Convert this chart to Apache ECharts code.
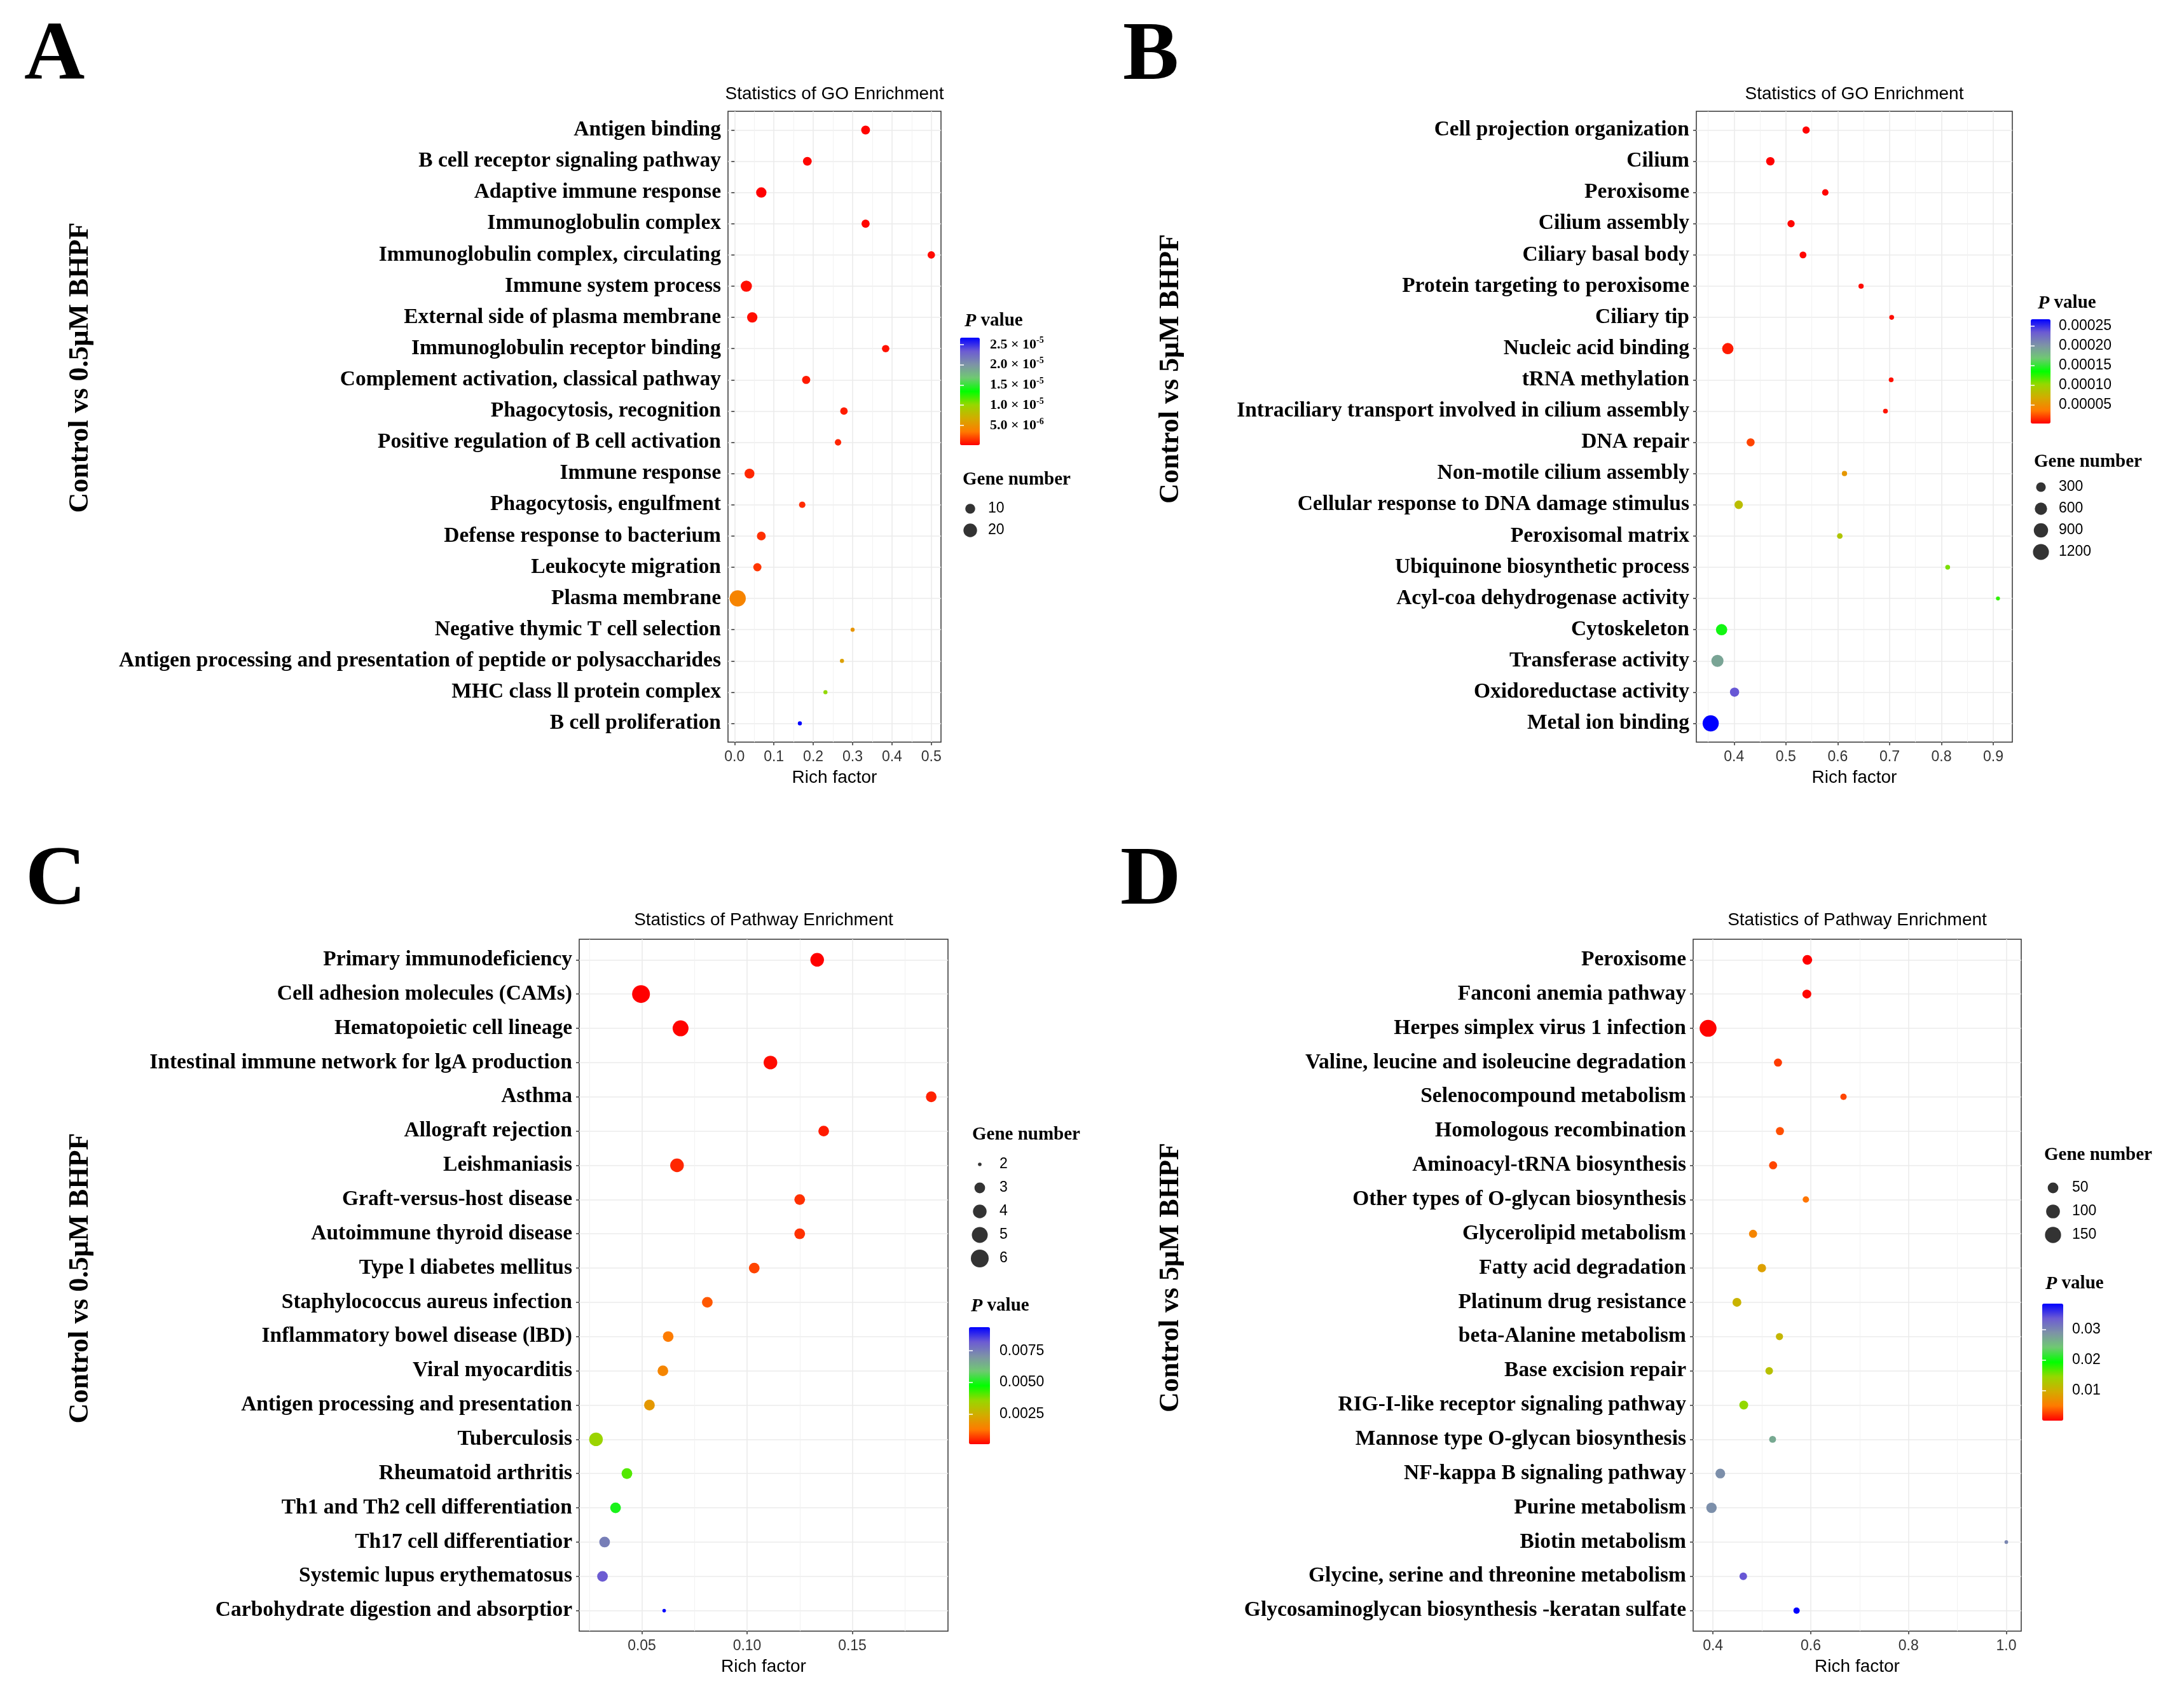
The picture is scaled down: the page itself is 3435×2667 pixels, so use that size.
<!DOCTYPE html>
<html>
<head>
<meta charset="utf-8">
<title>GO and pathway enrichment, Control vs BHPF</title>
<script src="https://cdn.jsdelivr.net/npm/echarts@6/dist/echarts.min.js"></script>
<style>
  html, body { margin: 0; padding: 0; background: #fff; }
  #chart { width: 3435px; height: 2667px; }
</style>
</head>
<body>
<div id="chart"></div>
<script>
var SERIF = '"Liberation Serif", "Times New Roman", serif';
var SANS = '"Liberation Sans", Arial, sans-serif';

// A - GO, Control vs 0.5uM BHPF
var termsA = ['Antigen binding', 'B cell receptor signaling pathway', 'Adaptive immune response',
  'Immunoglobulin complex', 'Immunoglobulin complex, circulating', 'Immune system process',
  'External side of plasma membrane', 'Immunoglobulin receptor binding',
  'Complement activation, classical pathway', 'Phagocytosis, recognition',
  'Positive regulation of B cell activation', 'Immune response', 'Phagocytosis, engulfment',
  'Defense response to bacterium', 'Leukocyte migration', 'Plasma membrane',
  'Negative thymic T cell selection', 'Antigen processing and presentation of peptide or polysaccharides',
  'MHC class ll protein complex', 'B cell proliferation'];
var richA = [0.333, 0.185, 0.068, 0.333, 0.5, 0.030, 0.045, 0.384, 0.182, 0.278,
  0.263, 0.038, 0.172, 0.068, 0.058, 0.008, 0.300, 0.273, 0.231, 0.166];
var genesA = [8, 8, 11, 7, 6, 13, 11, 6, 7, 6, 5, 10, 5, 8, 7, 30, 4, 4, 4, 4];
var pvalA = [2e-7, 3e-7, 1.3e-7, 3e-7, 4e-7, 5e-7, 5e-7, 6e-7, 8e-7, 9e-7,
  1.1e-6, 1.2e-6, 1.3e-6, 1.4e-6, 1.6e-6, 4.1e-6, 5.2e-6, 6.0e-6, 1.02e-5, 2.67e-5];
var richTicksA = [0, 0.1, 0.2, 0.3, 0.4, 0.5];
var geneBreaksA = [10, 20];
var pTicksA = [5e-6, 1e-5, 1.5e-5, 2e-5, 2.5e-5];

// B - GO, Control vs 5uM BHPF
var termsB = ['Cell projection organization', 'Cilium', 'Peroxisome', 'Cilium assembly',
  'Ciliary basal body', 'Protein targeting to peroxisome', 'Ciliary tip', 'Nucleic acid binding',
  'tRNA methylation', 'Intraciliary transport involved in cilium assembly', 'DNA repair',
  'Non-motile cilium assembly', 'Cellular response to DNA damage stimulus', 'Peroxisomal matrix',
  'Ubiquinone biosynthetic process', 'Acyl-coa dehydrogenase activity', 'Cytoskeleton',
  'Transferase activity', 'Oxidoreductase activity', 'Metal ion binding'];
var richB = [0.539, 0.470, 0.576, 0.510, 0.533, 0.645, 0.704, 0.388, 0.703, 0.692,
  0.432, 0.613, 0.409, 0.604, 0.812, 0.909, 0.376, 0.368, 0.401, 0.355];
var genesB = [125, 201, 88, 125, 105, 52, 45, 472, 45, 45,
  173, 52, 201, 61, 45, 40, 472, 573, 265, 1240];
var pvalB = [3e-6, 2.6e-6, 3.5e-6, 4e-6, 4.5e-6, 5e-6, 6e-6, 1.0e-5, 7e-6, 8e-6,
  2.1e-5, 5.5e-5, 8.2e-5, 8.8e-5, 1.08e-4, 1.24e-4, 1.4e-4, 1.9e-4, 2.35e-4, 2.665e-4];
var richTicksB = [0.4, 0.5, 0.6, 0.7, 0.8, 0.9];
var geneBreaksB = [300, 600, 900, 1200];
var pTicksB = [0.00005, 0.0001, 0.00015, 0.0002, 0.00025];

// C - KEGG, Control vs 0.5uM BHPF
var termsC = ['Primary immunodeficiency', 'Cell adhesion molecules (CAMs)', 'Hematopoietic cell lineage',
  'Intestinal immune network for lgA production', 'Asthma', 'Allograft rejection', 'Leishmaniasis',
  'Graft-versus-host disease', 'Autoimmune thyroid disease', 'Type l diabetes mellitus',
  'Staphylococcus aureus infection', 'Inflammatory bowel disease (lBD)', 'Viral myocarditis',
  'Antigen processing and presentation', 'Tuberculosis', 'Rheumatoid arthritis',
  'Th1 and Th2 cell differentiation', 'Th17 cell differentiatior', 'Systemic lupus erythematosus',
  'Carbohydrate digestion and absorptior'];
var richC = [0.1333, 0.0496, 0.0684, 0.1111, 0.1875, 0.1364, 0.0667, 0.125, 0.125, 0.1034,
  0.0811, 0.0625, 0.0600, 0.0536, 0.0282, 0.0429, 0.0375, 0.0323, 0.0313, 0.0606];
var genesC = [4, 6, 5, 4, 3, 3, 4, 3, 3, 3, 3, 3, 3, 3, 4, 3, 3, 3, 3, 2];
var pvalC = [1.0e-4, 9e-5, 1.2e-4, 2e-4, 4e-4, 3.5e-4, 4.6e-4, 5.5e-4, 5.6e-4, 7.4e-4,
  9.3e-4, 1.3e-3, 1.5e-3, 1.95e-3, 3.5e-3, 4.1e-3, 5.0e-3, 7.5e-3, 8.2e-3, 9.38e-3];
var richTicksC = [0.05, 0.10, 0.15];
var geneBreaksC = [2, 3, 4, 5, 6];
var pTicksC = [0.0025, 0.005, 0.0075];

// D - KEGG, Control vs 5uM BHPF
var termsD = ['Peroxisome', 'Fanconi anemia pathway', 'Herpes simplex virus 1 infection',
  'Valine, leucine and isoleucine degradation', 'Selenocompound metabolism', 'Homologous recombination',
  'Aminoacyl-tRNA biosynthesis', 'Other types of O-glycan biosynthesis', 'Glycerolipid metabolism',
  'Fatty acid degradation', 'Platinum drug resistance', 'beta-Alanine metabolism', 'Base excision repair',
  'RIG-I-like receptor signaling pathway', 'Mannose type O-glycan biosynthesis',
  'NF-kappa B signaling pathway', 'Purine metabolism', 'Biotin metabolism',
  'Glycine, serine and threonine metabolism', 'Glycosaminoglycan biosynthesis -keratan sulfate'];
var richD = [0.593, 0.592, 0.390, 0.533, 0.667, 0.537, 0.523, 0.590, 0.482, 0.500,
  0.449, 0.536, 0.515, 0.463, 0.522, 0.415, 0.397, 1.0, 0.462, 0.571];
var genesD = [38, 29, 170, 22, 10, 22, 22, 10, 22, 25, 29, 15, 18, 29, 13, 38, 47, 3, 18, 10];
var pvalD = [0.0002, 0.0004, 0.0003, 0.0025, 0.0029, 0.0033, 0.0029, 0.0048, 0.0060, 0.0086,
  0.0105, 0.0109, 0.0120, 0.0147, 0.0270, 0.0293, 0.0293, 0.0300, 0.0339, 0.0385];
var richTicksD = [0.4, 0.6, 0.8, 1.0];
var geneBreaksD = [50, 100, 150];
var pTicksD = [0.01, 0.02, 0.03];

// red -> green -> blue ramp
var pColors = ['#FF0000', '#FF7A00', '#D2AC00', '#97D700', '#00FF00', '#6FC972', '#7D93A6', '#6C5BD3', '#0000FF'];

function sciLabel(v) {
  var e = Math.floor(Math.log10(v) + 1e-9);
  var m = v / Math.pow(10, e);
  return '{m|' + m.toFixed(1) + ' \u00d7 10}{e|' + e + '}';
}

var panels = [
  { letter: 'A', terms: termsA, rich: richA, genes: genesA, pval: pvalA,
    richTicks: richTicksA, digits: 1, geneBreaks: geneBreaksA, pTicks: pTicksA,
    pLabel: sciLabel, title: 'Statistics of GO Enrichment', yTitle: 'Control vs 0.5\u03bcM BHPF',
    grid: { left: 1145, top: 175, width: 335, height: 992 }, dot: [6.4, 25.5],
    letterPos: [38, 90], yTitlePos: [127, 578], titleY: 148,
    bar: { left: 1510, top: 531, width: 31, height: 169, gap: 16 },
    size: { x: 1526, first: 800, step: 34, labelX: 1554 },
    pTitle: [1517, 505], gTitle: [1514, 755] },
  { letter: 'B', terms: termsB, rich: richB, genes: genesB, pval: pvalB,
    richTicks: richTicksB, digits: 1, geneBreaks: geneBreaksB, pTicks: pTicksB,
    pLabel: function (v) { return v.toFixed(5); }, title: 'Statistics of GO Enrichment',
    yTitle: 'Control vs 5\u03bcM BHPF',
    grid: { left: 2668, top: 175, width: 497, height: 992 }, dot: [6.3, 25.4],
    letterPos: [1766, 90], yTitlePos: [1842, 580], titleY: 148,
    bar: { left: 3194, top: 502, width: 31, height: 164, gap: 13 },
    size: { x: 3210, first: 766, step: 34, labelX: 3238 },
    pTitle: [3205, 477], gTitle: [3199, 727] },
  { letter: 'C', terms: termsC, rich: richC, genes: genesC, pval: pvalC,
    richTicks: richTicksC, digits: 2, geneBreaks: geneBreaksC, pTicks: pTicksC,
    pLabel: function (v) { return v.toFixed(4); }, title: 'Statistics of Pathway Enrichment',
    yTitle: 'Control vs 0.5\u03bcM BHPF',
    grid: { left: 911, top: 1477, width: 580, height: 1088 }, dot: [5.6, 28],
    letterPos: [40, 1387], yTitlePos: [127, 2010], titleY: 1447,
    bar: { left: 1524, top: 2087, width: 33, height: 184, gap: 15 },
    size: { x: 1541, first: 1831, step: 37, labelX: 1572 },
    pTitle: [1527, 2054], gTitle: [1529, 1785] },
  { letter: 'D', terms: termsD, rich: richD, genes: genesD, pval: pvalD,
    richTicks: richTicksD, digits: 1, geneBreaks: geneBreaksD, pTicks: pTicksD,
    pLabel: function (v) { return v.toFixed(2); }, title: 'Statistics of Pathway Enrichment',
    yTitle: 'Control vs 5\u03bcM BHPF',
    grid: { left: 2663, top: 1477, width: 516, height: 1088 }, dot: [5.7, 26.6],
    letterPos: [1762, 1387], yTitlePos: [1842, 2009], titleY: 1447,
    bar: { left: 3212, top: 2050, width: 33, height: 184, gap: 14 },
    size: { x: 3229, first: 1868, step: 37, labelX: 3259 },
    pTitle: [3217, 2019], gTitle: [3215, 1817] }
];

var option = {
  animation: false,
  backgroundColor: '#fff',
  grid: [], xAxis: [], yAxis: [], series: [], visualMap: [], graphic: []
};

function text(x, y, str, size, extra) {
  var el = {
    type: 'text', x: x, y: y, silent: true,
    style: { text: str, fontSize: size, fontFamily: SERIF, fontWeight: 'bold', fill: '#000',
      align: 'left', verticalAlign: 'middle' }
  };
  if (extra) {
    for (var k in extra.style || {}) el.style[k] = extra.style[k];
    if (extra.rotation) el.rotation = extra.rotation;
  }
  option.graphic.push(el);
}

panels.forEach(function (p) {
  var n = p.terms.length;
  var gMin = Math.min.apply(null, p.genes), gMax = Math.max.apply(null, p.genes);
  var sizeOf = function (g) {
    var t = Math.max(0, (g - gMin) / (gMax - gMin));
    return p.dot[0] + (p.dot[1] - p.dot[0]) * Math.sqrt(t);
  };
  var rMin = Math.min.apply(null, p.rich), rMax = Math.max.apply(null, p.rich);
  var pad = (rMax - rMin) * 0.05;
  var pMin = Math.min.apply(null, p.pval), pMax = Math.max.apply(null, p.pval);
  var rows = p.terms.map(function (t, i) { return i + 1; });
  var step = p.richTicks[1] - p.richTicks[0];
  var minor = [p.richTicks[0] - step / 2].concat(p.richTicks.map(function (t) { return t + step / 2; }));
  var gridLine = { color: '#EBEBEB', width: 1.6 };
  var tickLine = { color: '#333', width: 1.5 };

  // main panel
  var gi = option.grid.length;
  option.grid.push({ left: p.grid.left, top: p.grid.top, width: p.grid.width, height: p.grid.height,
    show: true, borderColor: '#333', borderWidth: 1.5, backgroundColor: '#fff', containLabel: false });
  var xi = option.xAxis.length;
  option.xAxis.push({
    gridIndex: gi, type: 'value', min: rMin - pad, max: rMax + pad, position: 'bottom',
    axisLine: { show: false },
    axisTick: { show: true, length: 5, customValues: p.richTicks, lineStyle: tickLine },
    axisLabel: { customValues: p.richTicks, margin: 12, fontFamily: SANS, fontSize: 23, color: '#333',
      formatter: function (v) { return v.toFixed(p.digits); } },
    splitLine: { show: true, lineStyle: gridLine },
    name: 'Rich factor', nameLocation: 'middle', nameGap: 42,
    nameTextStyle: { fontFamily: SANS, fontSize: 28, color: '#000' }
  });
  option.xAxis.push({
    gridIndex: gi, type: 'value', min: rMin - pad, max: rMax + pad, position: 'top',
    axisLine: { show: false }, axisLabel: { show: false },
    axisTick: { show: false, customValues: minor },
    splitLine: { show: true, lineStyle: { color: '#F0F0F0', width: 0.9 } }
  });
  var yi = option.yAxis.length;
  option.yAxis.push({
    gridIndex: gi, type: 'value', inverse: true, min: 0.4, max: n + 0.6,
    axisLine: { show: false },
    axisTick: { show: true, length: 5, customValues: rows, lineStyle: tickLine },
    axisLabel: { customValues: rows, margin: 11, fontFamily: SERIF, fontWeight: 'bold', fontSize: 33.5,
      color: '#000', formatter: function (v) { return p.terms[Math.round(v) - 1]; } },
    splitLine: { show: true, lineStyle: gridLine }
  });
  var si = option.series.length;
  option.series.push({
    type: 'scatter', xAxisIndex: xi, yAxisIndex: yi, z: 3,
    data: p.terms.map(function (t, i) { return [p.rich[i], i + 1, p.genes[i], p.pval[i]]; }),
    symbolSize: function (v) { return sizeOf(v[2]); },
    itemStyle: { opacity: 1 },
    emphasis: { disabled: true }
  });

  // colour bar
  option.visualMap.push({
    type: 'continuous', seriesIndex: si, dimension: 3, min: pMin, max: pMax,
    inRange: { color: pColors }, calculable: false, hoverLink: false, orient: 'vertical',
    left: p.bar.left, top: p.bar.top, itemWidth: p.bar.width, itemHeight: p.bar.height, padding: 0
  });
  var ci = option.grid.length;
  option.grid.push({ left: p.bar.left, top: p.bar.top, width: p.bar.width, height: p.bar.height, show: false });
  option.xAxis.push({ gridIndex: ci, type: 'value', min: 0, max: 1, show: false });
  option.yAxis.push({
    gridIndex: ci, type: 'value', min: pMin, max: pMax, position: 'right', z: 10,
    axisLine: { show: false }, splitLine: { show: false },
    axisTick: { show: true, inside: true, length: 6, customValues: p.pTicks, lineStyle: { color: '#fff', width: 1.5 } },
    axisLabel: { customValues: p.pTicks, margin: p.bar.gap, fontFamily: SANS, fontSize: 23, color: '#000',
      formatter: p.pLabel,
      rich: {
        m: { fontFamily: SERIF, fontWeight: 'bold', fontSize: 22, lineHeight: 26, color: '#000' },
        e: { fontFamily: SERIF, fontWeight: 'bold', fontSize: 14, lineHeight: 14, verticalAlign: 'top', color: '#000' }
      } }
  });
  option.yAxis.push({
    gridIndex: ci, type: 'value', min: pMin, max: pMax, position: 'left', z: 10,
    axisLine: { show: false }, splitLine: { show: false }, axisLabel: { show: false },
    axisTick: { show: true, inside: true, length: 6, customValues: p.pTicks, lineStyle: { color: '#fff', width: 1.5 } }
  });

  // size legend
  var li = option.grid.length;
  option.grid.push({ left: p.size.x - 10, top: p.size.first - p.size.step / 2, width: 20,
    height: p.size.step * p.geneBreaks.length, show: false });
  var lxi = option.xAxis.length;
  option.xAxis.push({ gridIndex: li, type: 'value', min: -1, max: 1, show: false });
  var lyi = option.yAxis.length;
  option.yAxis.push({
    gridIndex: li, type: 'category', inverse: true, position: 'right',
    data: p.geneBreaks.map(String),
    axisLine: { show: false }, axisTick: { show: false }, splitLine: { show: false },
    axisLabel: { margin: p.size.labelX - (p.size.x + 10), fontFamily: SANS, fontSize: 23, color: '#000' }
  });
  option.series.push({
    type: 'scatter', xAxisIndex: lxi, yAxisIndex: lyi, silent: true,
    data: p.geneBreaks.map(function (b, i) { return [0, i, b]; }),
    symbolSize: function (v) { return sizeOf(v[2]); },
    itemStyle: { color: '#000' }
  });

  // texts
  text(p.letterPos[0], p.letterPos[1], p.letter, 132);
  text(p.yTitlePos[0], p.yTitlePos[1], p.yTitle, 44, { rotation: Math.PI / 2, style: { align: 'center' } });
  text(p.grid.left + p.grid.width / 2, p.titleY, p.title, 28,
    { style: { align: 'center', fontFamily: SANS, fontWeight: 'normal' } });
  text(p.pTitle[0], p.pTitle[1], '{i|P} value', 29,
    { style: { rich: { i: { fontStyle: 'italic', fontWeight: 'bold', fontFamily: SERIF, fontSize: 30 } } } });
  text(p.gTitle[0], p.gTitle[1], 'Gene number', 29);
});

var chart = echarts.init(document.getElementById('chart'), null, { renderer: 'canvas' });
chart.setOption(option);
</script>
</body>
</html>
